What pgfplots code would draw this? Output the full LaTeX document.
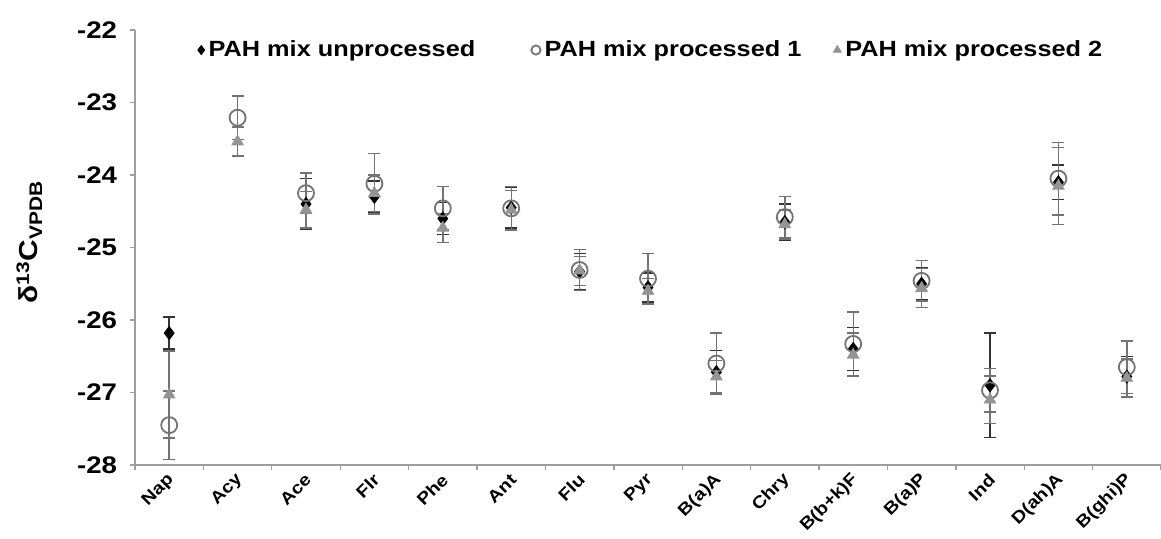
\documentclass[border=0pt]{standalone}
\usepackage{fontspec}
\setmainfont[FakeStretch=1.15]{Liberation Sans}
\usepackage{pgfplots}
\usepackage{pgfplotstable}
\pgfplotsset{compat=1.18}
\pgfplotstableread{
x y e
0 -26.18 0.22
2 -24.40 0.35
3 -24.30 0.22
4 -24.60 0.22
5 -24.45 0.28
6 -25.33 0.25
7 -25.55 0.20
8 -26.72 0.30
9 -24.65 0.25
10 -26.40 0.30
11 -25.50 0.22
12 -26.90 0.72
13 -24.10 0.24
14 -26.78 0.28
}\unproc
\pgfplotstableread{
x y e
0 -27.45 0.47
1 -23.21 0.30
2 -24.25 0.28
3 -24.12 0.42
4 -24.46 0.30
5 -24.46 0.30
6 -25.31 0.28
7 -25.43 0.35
8 -26.60 0.42
9 -24.58 0.28
10 -26.33 0.44
11 -25.46 0.28
12 -26.97 0.30
13 -24.05 0.50
14 -26.65 0.36
}\procA
\pgfplotstableread{
x y e
0 -27.03 0.60
1 -23.54 0.20
2 -24.48 0.25
3 -24.25 0.25
4 -24.73 0.20
5 -24.48 0.27
6 -25.32 0.20
7 -25.60 0.17
8 -26.78 0.22
9 -24.68 0.20
10 -26.48 0.30
11 -25.56 0.27
12 -27.10 0.33
13 -24.15 0.53
14 -26.80 0.26
}\procB
\definecolor{cgray}{gray}{0.45}
\definecolor{tgray}{gray}{0.58}
\definecolor{agray}{gray}{0.62}
\definecolor{dgray}{gray}{0.2}
\begin{document}
\begin{tikzpicture}
\begin{axis}[
  at={(0,0)}, anchor=south west,
  scale only axis, width=513bp, height=217.5bp,
  xmin=-0.5, xmax=14.5, ymin=-28, ymax=-22,
  axis x line*=bottom, axis y line*=left,
  x axis line style={agray, line width=1.3bp},
  y axis line style={agray, line width=0.8bp},
  tick align=outside, major tick length=2.5bp,
  tick style={agray, line width=0.7bp},
  xtick={-0.5,0.5,...,14.5}, xticklabels={},
  extra x ticks={0,1,...,14},
  extra x tick labels={Nap,Acy,Ace,Flr,Phe,Ant,Flu,Pyr,B(a)A,Chry,B(b+k)F,B(a)P,Ind,D(ah)A,B(ghi)P},
  extra x tick style={major tick length=0pt,
    xticklabel style={rotate=45, anchor=east, yshift=-5bp, font=\bfseries\fontsize{8.5bp}{10bp}\selectfont}},
  ytick={-28,-27,...,-22},
  yticklabels={-28,-27,-26,-25,-24,-23,-22},
  yticklabel style={font=\bfseries\fontsize{12bp}{14bp}\selectfont, xshift=-3bp},
  ylabel={\bfseries δ\textsuperscript{13}C\textsubscript{VPDB}},
  ylabel style={font=\fontsize{13bp}{15bp}\selectfont, at={(axis description cs:-0.103,0.513)}, anchor=center},
  clip=false,
  legend columns=-1,
  legend style={at={(axis description cs:0.055,0.995)}, anchor=north west, draw=none, fill=none,
    font=\bfseries\fontsize{11bp}{13bp}\selectfont,
    nodes={inner xsep=2bp},
    /tikz/every even column/.append style={column sep=14bp}},
  legend image code/.code={\draw[#1, mark size=2.3bp] plot coordinates {(0bp,0bp)};},
]
\addplot[only marks, mark=diamond*, mark size=3.3bp, black,
  error bars/.cd, y dir=both, y explicit,
  error bar style={dgray, line width=0.7bp},
  error mark options={rotate=90, mark size=3bp, dgray, line width=0.7bp}]
  table[x=x, y=y, y error=e]{\unproc};
\addlegendentry{PAH mix unprocessed\hspace*{12bp}}
\addplot[only marks, mark=o, mark size=4bp, cgray, mark options={line width=0.9bp, fill=none},
  error bars/.cd, y dir=both, y explicit,
  error bar style={cgray, line width=0.7bp},
  error mark options={rotate=90, mark size=3bp, cgray, line width=0.7bp}]
  table[x=x, y=y, y error=e]{\procA};
\addlegendentry{PAH mix processed 1}
\addplot[only marks, mark=triangle*, mark size=3.3bp, tgray, mark options={fill=tgray, draw=tgray},
  error bars/.cd, y dir=both, y explicit,
  error bar style={cgray, line width=0.7bp},
  error mark options={rotate=90, mark size=3bp, cgray, line width=0.7bp}]
  table[x=x, y=y, y error=e]{\procB};
\addlegendentry{PAH mix processed 2}
\end{axis}
\pgfresetboundingbox
\path[use as bounding box] (-67.5bp,-37bp) rectangle (513bp,232.5bp);
\end{tikzpicture}
\end{document}
